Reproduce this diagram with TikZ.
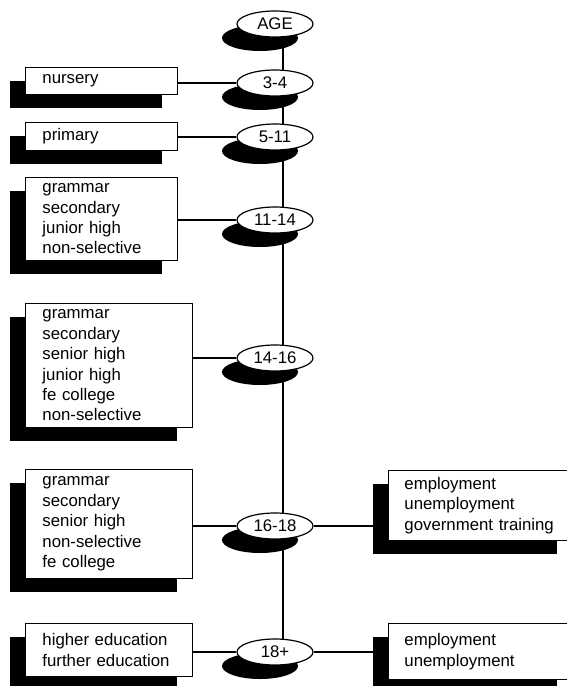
\documentclass[tikz,border=0pt]{standalone}
\usepackage{fontspec}
\setmainfont{Liberation Sans}
\usepackage{tikz}
\usetikzlibrary{shapes.geometric,shadows,backgrounds}
\definecolor{ink}{HTML}{000000}
\definecolor{paper}{HTML}{FFFFFF}
\tikzset{
  blackshadow/.style={drop shadow={shadow xshift=-15pt,shadow yshift=-14pt,
    fill=ink,opacity=1}},
  agebox/.style={ellipse,draw=ink,line width=1.2pt,fill=paper,blackshadow,
    minimum width=76pt,minimum height=26pt,inner sep=0pt,
    font=\fontsize{16.8}{20.4}\selectfont},
  stagebox/.style={draw=ink,line width=0.9pt,fill=paper,blackshadow,
    anchor=north west,align=left,inner xsep=17pt,inner ysep=0pt,
    text width=#1,font=\fontsize{16.8}{20.4}\selectfont},
  stagebox/.default=118pt,
  link/.style={draw=ink,line width=2pt}
}

\begin{document}
\begin{tikzpicture}[x=1pt,y=-1pt]
  \useasboundingbox (0,0) rectangle (566,686);
  \node[agebox] (age) at (275,24) {AGE};
  \node[agebox] (a34) at (275,83) {3-4};
  \node[agebox] (a511) at (275,137) {5-11};
  \node[agebox] (a1114) at (275,220) {11-14};
  \node[agebox] (a1416) at (275,358) {14-16};
  \node[agebox] (a1618) at (275,526) {16-18};
  \node[agebox] (a18) at (275,652) {18+};
  \node[stagebox,minimum height=27pt] (nursery) at (25,67) {nursery};
  \node[stagebox,minimum height=28pt] (primary) at (25,122) {primary};
  \node[stagebox,minimum height=83pt] (school1114) at (25,177)
    {grammar\\secondary\\junior high\\non-selective};
  \node[stagebox=133pt,minimum height=124pt] (school1416) at (25,303)
    {grammar\\secondary\\senior high\\junior high\\fe college\\non-selective};
  \node[stagebox=133pt,minimum height=109pt] (school1618) at (25,469)
    {grammar\\secondary\\senior high\\non-selective\\fe college};
  \node[stagebox=133pt,minimum height=53pt] (study18) at (25,623)
    {higher education\\further education};
  \node[stagebox=152pt,inner xsep=16pt,minimum height=70pt] (work1618) at (388,470)
    {employment\\unemployment\\government training};
  \node[stagebox=152pt,inner xsep=16pt,minimum height=56pt] (work18) at (388,623)
    {employment\\unemployment};
  \begin{scope}[on background layer]
    \draw[link] ([xshift=8pt]age.center) -- ([xshift=8pt]a18.center);
    \draw[link] (nursery.east |- a34) -- (a34);
    \draw[link] (primary.east |- a511) -- (a511);
    \draw[link] (school1114.east |- a1114) -- (a1114);
    \draw[link] (school1416.east |- a1416) -- (a1416);
    \draw[link] (school1618.east |- a1618) -- (a1618);
    \draw[link] (study18.east |- a18) -- (a18);
    \draw[link] (a1618) -- (work1618.west |- a1618);
    \draw[link] (a18) -- (work18.west |- a18);
  \end{scope}
\end{tikzpicture}
\end{document}
